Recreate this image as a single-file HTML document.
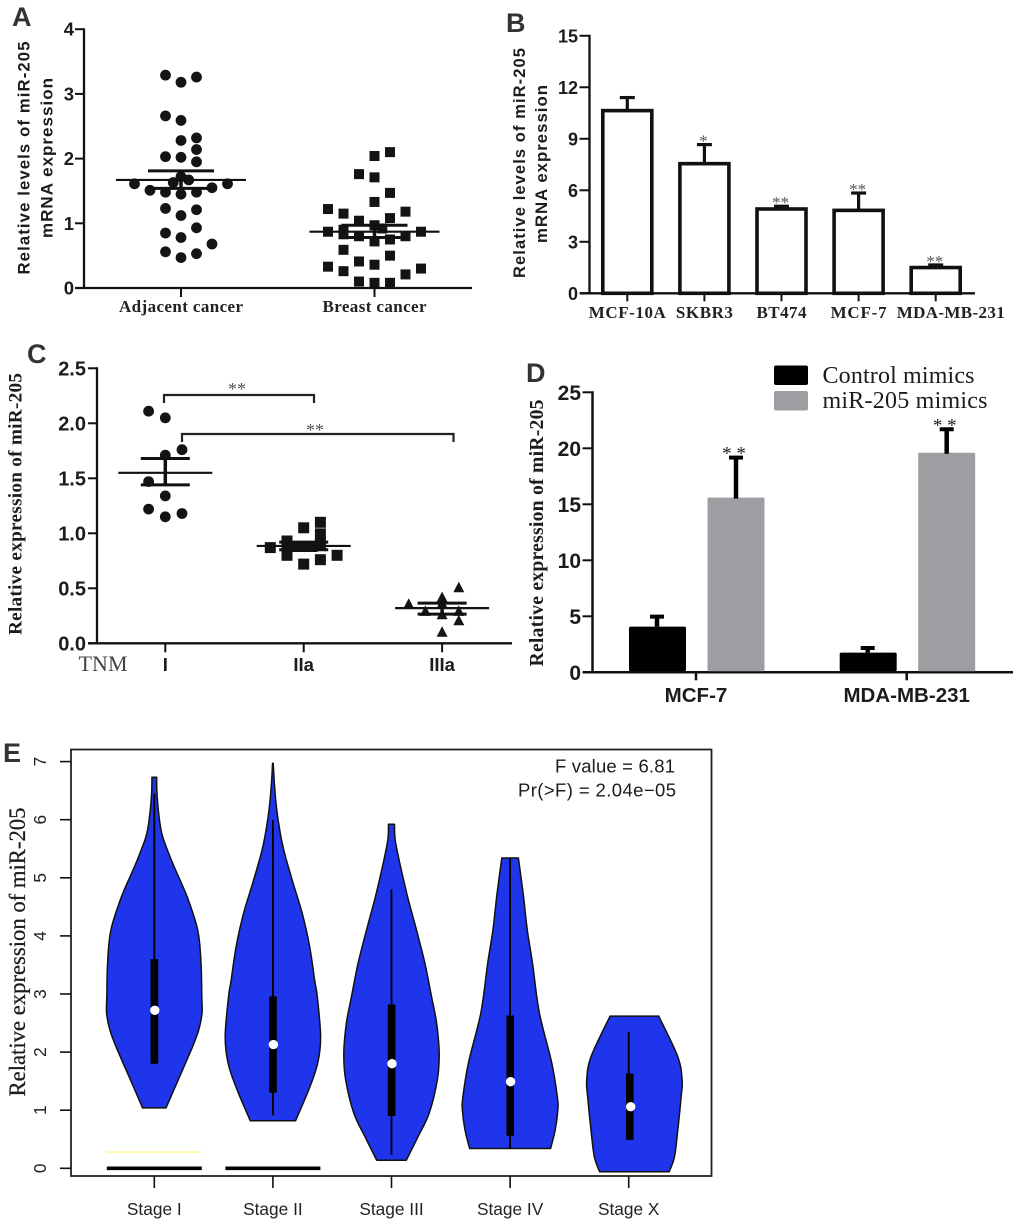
<!DOCTYPE html>
<html lang="en">
<head>
<meta charset="utf-8">
<title>miR-205 expression figure</title>
<style>
html,body{margin:0;padding:0;background:#fff;width:1020px;height:1226px;overflow:hidden}
svg{display:block}
text{fill:#1c1c1c}
.sans{font-family:"Liberation Sans",Arial,sans-serif}
.serif{font-family:"Liberation Serif","Times New Roman",serif}
.b{font-weight:bold}
.letter{font-family:"Liberation Sans",Arial,sans-serif;font-weight:bold;font-size:27px;fill:#333}
.tick{font-family:"Liberation Sans",Arial,sans-serif;font-weight:bold;font-size:18px;text-anchor:end}
.cat{font-family:"Liberation Serif",serif;font-weight:bold;font-size:17px;text-anchor:middle;fill:#222}
.cat2{font-family:"Liberation Sans",Arial,sans-serif;font-weight:bold;font-size:18.5px;text-anchor:middle}
.star{font-family:"Liberation Serif",serif;font-size:17px;text-anchor:middle;fill:#555}
.etick{font-family:"Liberation Sans",Arial,sans-serif;font-size:17.3px;text-anchor:middle;fill:#222}
</style>
</head>
<body>
<svg id="fig" xmlns="http://www.w3.org/2000/svg" width="1020" height="1226" viewBox="0 0 1020 1226">
  <g id="panel-a">
    <text class="letter" x="12" y="26">A</text>
    <text class="sans b" font-size="16.7" transform="translate(29.5,158) rotate(-90)" text-anchor="middle" textLength="233">Relative levels of miR-205</text>
    <text class="sans b" font-size="17" transform="translate(52.5,158) rotate(-90)" text-anchor="middle" textLength="160">mRNA expression</text>
  </g>
  <g id="panel-b">
    <text class="letter" x="506" y="32">B</text>
    <text class="sans b" font-size="16.5" transform="translate(525,163) rotate(-90)" text-anchor="middle" textLength="230">Relative levels of miR-205</text>
    <text class="sans b" font-size="16.8" transform="translate(547,164) rotate(-90)" text-anchor="middle" textLength="158">mRNA expression</text>
  </g>
  <g id="panel-c">
    <text class="letter" x="27" y="363">C</text>
    <text class="serif b" font-size="19.3" transform="translate(21.5,504) rotate(-90)" text-anchor="middle" textLength="262">Relative expression of miR-205</text>
    <text class="serif" font-size="22" x="78.5" y="671" style="fill:#444" textLength="49">TNM</text>
  </g>
  <g id="panel-d">
    <text class="letter" x="526" y="382">D</text>
    <text class="serif b" font-size="19.7" transform="translate(543,533) rotate(-90)" text-anchor="middle" textLength="267">Relative expression of miR-205</text>
    <g>
      <rect x="774" y="365.5" width="34" height="19.5" rx="2" fill="#000"/>
      <text class="serif" font-size="24" x="822.5" y="383" textLength="152">Control mimics</text>
      <rect x="774" y="391" width="34" height="19.5" rx="2" fill="#9e9ea2"/>
      <text class="serif" font-size="24" x="822.5" y="408" textLength="165">miR-205 mimics</text>
    </g>
  </g>
  <g id="panel-e">
    <text class="letter" x="3" y="762">E</text>
    <rect x="71" y="749.5" width="640.5" height="426.5" fill="none" stroke="#222" stroke-width="1.8"/>
    <text class="serif" font-size="22.7" transform="translate(25,952) rotate(-90)" text-anchor="middle" textLength="289" style="stroke:#1c1c1c;stroke-width:.25">Relative expression of miR-205</text>
    <text class="sans" font-size="18.5" x="675" y="772.5" text-anchor="end" textLength="120">F value = 6.81</text>
    <text class="sans" font-size="18.5" x="676" y="796.5" text-anchor="end" textLength="158">Pr(&gt;F) = 2.04e−05</text>
  </g>
</svg>
<script>
/* ---------- Panel A data ---------- */
const aCategories = ['Adjacent cancer', 'Breast cancer'];
const aTicks = [0, 1, 2, 3, 4];
const adjacentValues = [3.29,3.18,3.26,2.66,2.59,2.32,2.28,2.14,2.03,2.02,1.95,1.72,1.67,1.63,1.61,1.61,1.55,1.51,1.48,1.48,1.45,1.23,1.21,1.12,.93,.85,.78,.68,.56,.53,.47];
const adjacentBins = [-1,0,1,-1,0,1,0,1,-1,0,1,0,.5,-.5,-3,3,2,-2,-1,1,0,-1,1,0,1,-1,0,2,-1,1,0];
const breastValues = [2.10,2.04,1.76,1.71,1.47,1.33,1.22,1.18,1.15,1.08,1.04,.97,.90,.92,.87,.87,.83,.80,.80,.75,.72,.59,.50,.41,.36,.33,.30,.26,.21,.10,.08,.08];
const breastBins = [1,0,-1,0,1,0,-3,2,-2,1,-1,0,-2,.5,-3,3,-2,-1,2,1,0,-2,1,-1,0,-3,3,-2,2,-1,0,1];
const aMeans = [1.67, 0.87];
const aSemHigh = [1.81, 0.97];
const aSemLow = [1.54, 0.78];

/* ---------- Panel B data ---------- */
const bCategories = ['MCF-10A', 'SKBR3', 'BT474', 'MCF-7', 'MDA-MB-231'];
const bTicks = [0, 3, 6, 9, 12, 15];
const bValues = [10.64, 7.55, 4.91, 4.83, 1.5];
const bErrorTops = [11.4, 8.66, 5.07, 5.84, 1.65];
const bStars = ['', '*', '**', '**', '**'];

/* ---------- Panel C data ---------- */
const cCategories = ['I', 'IIa', 'IIIa'];
const cTicks = ['0.0', '0.5', '1.0', '1.5', '2.0', '2.5'];
const stageIValues = [2.11,2.05,1.76,1.71,1.47,1.34,1.22,1.18,1.15];
const stageIBins = [-1,0,1,0,-1,0,-1,1,0];
const stageIIaValues = [1.10,1.05,.995,.93,.87,.91,.88,.88,.88,.88,.80,.80,.76,.72];
const stageIIaBins = [1,0,1,-1,-2,1,-1,0,.5,-.5,-1,2,1,0];
const stageIIIaValues = [.505,.415,.355,.36,.29,.29,.26,.205,.10];
const stageIIIaBins = [1,0,-2,0,-1,1,0,1,0];
const cMeans = [1.55, 0.885, 0.32];
const cSemHigh = [1.68, 0.92, 0.365];
const cSemLow = [1.44, 0.85, 0.265];

/* ---------- Panel D data ---------- */
const dCategories = ['MCF-7', 'MDA-MB-231'];
const dTicks = [0, 5, 10, 15, 20, 25];
const controlValues = [4.08, 1.76];
const controlErrorTops = [4.97, 2.17];
const mimicValues = [15.6, 19.6];
const mimicErrorTops = [19.17, 21.7];

/* ---------- Panel E data ---------- */
const eCategories = ['Stage I', 'Stage II', 'Stage III', 'Stage IV', 'Stage X'];
const eTicks = [0, 1, 2, 3, 4, 5, 6, 7];
const violinValues = [
  [6.73,6.45,6.05,5.71,5.25,4.68,4.10,3.53,2.95,2.67,2.38,2.09,1.52,1.04],
  [6.97,6.57,6.11,5.54,4.96,4.39,3.82,3.24,2.95,2.27,1.81,1.35,.82],
  [5.92,5.65,5.25,4.68,4.10,3.53,2.95,2.50,1.98,1.52,.95,.55,.14],
  [5.34,4.68,4.10,3.53,2.67,1.81,1.23,1.00,.66,.34],
  [2.62,1.92,1.52,1.23,.66,.20,-.06]
];
const violinDensities = [
  [.05,.056,.10,.175,.385,.685,.91,.98,.995,1,.93,.80,.50,.245],
  [.007,.035,.09,.21,.405,.615,.77,.875,.93,1,.94,.75,.475],
  [.063,.077,.175,.335,.525,.70,.84,.945,1,.96,.79,.56,.31],
  [.175,.28,.36,.47,.615,.875,.99,1,.945,.85],
  [.51,.91,1,.98,.91,.84,.73]
];
const eQ1 = [1.80, 1.30, 0.90, 0.56, 0.49];
const eQ3 = [3.60, 2.96, 2.82, 2.63, 1.63];
const eMedian = [2.72, 2.13, 1.80, 1.49, 1.06];
const eWhiskerHigh = [6.45, 6.00, 4.80, 5.34, 2.35];
const eWhiskerLow = [1.80, 0.91, 0.23, 0.34, 0.49];
const eFlatStages = [0, 1];
const eFlatValue = 0;
const eTraceStages = [0];
const eTraceValue = 0.28;

/* ---------- Axis functions ---------- */
const yA = v => 288 - v * 64.7;
const xA = i => 181 + i * 193.5;
const binA = 15.5;
const yB = v => 293.3 - v * 17.17;
const xB = i => 627.3 + i * 77.1;
const yC = v => 643.3 - v * 110;
const xC = i => 165.3 + i * 138.4;
const binC = 16.7;
const yD = v => 672.3 - v * 11.2;
const xDgroup = i => 696 + i * 210.7;
const yE = v => 1168.3 - v * 58.1;
const xE = i => 154.3 + i * 118.6;
const violinScale = 47.7;

const NS = 'http://www.w3.org/2000/svg';
const pa = document.getElementById('panel-a');
const pb = document.getElementById('panel-b');
const pc = document.getElementById('panel-c');
const pd = document.getElementById('panel-d');
const pe = document.getElementById('panel-e');

function mk(parent, tag, attrs, txt) {
  const el = document.createElementNS(NS, tag);
  for (const k in attrs) el.setAttribute(k, attrs[k]);
  if (txt !== undefined) el.textContent = txt;
  parent.appendChild(el);
  return el;
}
function ln(parent, x1, y1, x2, y2, w, c) {
  return mk(parent, 'line', {x1: x1, y1: y1, x2: x2, y2: y2, stroke: c || '#111', 'stroke-width': w});
}
function marker(parent, shape, x, y, big) {
  const s = big ? 5.5 : 5;
  if (shape === 'circle') return mk(parent, 'circle', {cx: x, cy: y, r: 5.4, fill: '#141414'});
  if (shape === 'square') return mk(parent, 'rect', {x: x - s, y: y - s, width: 2 * s, height: 2 * s, fill: '#141414'});
  return mk(parent, 'polygon', {points: (x) + ',' + (y - 6) + ' ' + (x + 5.5) + ',' + (y + 4.5) + ' ' + (x - 5.5) + ',' + (y + 4.5), fill: '#141414'});
}
function yAxis(parent, scale, ticks, axisX, tickLen, labelX, axisW, fontSize, dy) {
  const top = Math.min.apply(null, ticks.map(t => scale(+t)));
  const bot = Math.max.apply(null, ticks.map(t => scale(+t)));
  const axis = ln(parent, axisX, top - 1, axisX, bot + 1, axisW);
  
  
  ticks.forEach(t => {
    const tk = ln(parent, axisX - tickLen, scale(+t), axisX, scale(+t), 2);
    
    
    const lb = mk(parent, 'text', {class: 'tick', x: labelX, y: scale(+t) + dy, style: 'font-size:' + fontSize + 'px'}, String(t));
    
    
  });
}
function summary(parent, cx, mean, hi, lo, scale, meanHalf, semHalf) {
  const m = ln(parent, cx - meanHalf, scale(mean), cx + meanHalf, scale(mean), 2.2);
  
  
  const h = ln(parent, cx - semHalf, scale(hi), cx + semHalf, scale(hi), 3);
  
  
  const l = ln(parent, cx - semHalf, scale(lo), cx + semHalf, scale(lo), 3);
  
  
  const v = ln(parent, cx, scale(hi), cx, scale(lo), 3.5);
  
  
}

/* ---------- Draw panel A ---------- */
yAxis(pa, yA, aTicks, 84, 9, 74, 2.3, 18.5, 6.5);
const aXAxis = ln(pa, 75, yA(0), 472, yA(0), 2.3);


aCategories.forEach((c, i) => {
  const tk = ln(pa, xA(i), yA(0), xA(i), yA(0) + 9, 2);
  
  
  const lb = mk(pa, 'text', {class: 'cat', x: xA(i), y: 312, textLength: i ? 104 : 124}, c);
  
  
});
adjacentValues.forEach((v, i) => {
  const p = marker(pa, 'circle', xA(0) + adjacentBins[i] * binA, yA(v));
  
  
});
breastValues.forEach((v, i) => {
  const p = marker(pa, 'square', xA(1) + breastBins[i] * binA, yA(v));
  
  
});
aMeans.forEach((m, i) => summary(pa, xA(i), m, aSemHigh[i], aSemLow[i], yA, 65, 33));

/* ---------- Draw panel B ---------- */
yAxis(pb, yB, bTicks, 589.5, 10, 578, 2.3, 18, 6.5);
const bXAxis = ln(pb, 580, yB(0), 975, yB(0), 2.3);


const bLabelOffsets = [0, 0, 0, 0, 15];
const bLabelWidths = [77, 57, 50, 56, 108];
bCategories.forEach((c, i) => {
  const tk = ln(pb, xB(i), yB(0), xB(i), yB(0) + 8, 2);
  
  
  const lb = mk(pb, 'text', {class: 'cat', x: xB(i) + bLabelOffsets[i], y: 318, textLength: bLabelWidths[i]}, c);
  
  
});
bValues.forEach((v, i) => {
  const eb = ln(pb, xB(i), yB(bErrorTops[i]), xB(i), yB(v), 3.2);
  
  
  const cap = ln(pb, xB(i) - 7.5, yB(bErrorTops[i]), xB(i) + 7.5, yB(bErrorTops[i]), 3.2);
  
  
  const bar = mk(pb, 'rect', {x: xB(i) - 24.5, y: yB(v), width: 49, height: yB(0) - yB(v), fill: '#fff', stroke: '#111', 'stroke-width': 3.6});
  
  
  if (bStars[i]) {
    const s = mk(pb, 'text', {class: 'star', x: xB(i) - 1, y: yB(bErrorTops[i]) + 2}, bStars[i]);
    
    
  }
});

/* ---------- Draw panel C ---------- */
yAxis(pc, yC, cTicks, 97, 9, 86, 2.3, 20, 7);
const cXAxis = ln(pc, 88, yC(0), 512, yC(0), 2.3);


cCategories.forEach((c, i) => {
  const tk = ln(pc, xC(i), yC(0), xC(i), yC(0) + 9, 2);
  
  
  const lb = mk(pc, 'text', {class: 'cat2', x: xC(i), y: 671}, c);
  
  
});
[[stageIValues, stageIBins, 'circle'], [stageIIaValues, stageIIaBins, 'square'], [stageIIIaValues, stageIIIaBins, 'triangle']].forEach((set, g) => {
  set[0].forEach((v, i) => {
    const p = marker(pc, set[2], xC(g) + set[1][i] * binC, yC(v), true);
    
    
  });
});
cMeans.forEach((m, i) => summary(pc, xC(i), m, cSemHigh[i], cSemLow[i], yC, 47, 24.5));
const bracket1 = mk(pc, 'path', {d: 'M164 403V395H314V403', fill: 'none', stroke: '#222', 'stroke-width': 2.2});


const bracket2 = mk(pc, 'path', {d: 'M182 442V434H453.5V442', fill: 'none', stroke: '#222', 'stroke-width': 2.2});


const cs1 = mk(pc, 'text', {class: 'star', x: 237, y: 395, style: 'font-size:18px'}, '**');


const cs2 = mk(pc, 'text', {class: 'star', x: 315, y: 436, style: 'font-size:18px'}, '**');



/* ---------- Draw panel D ---------- */
yAxis(pd, yD, dTicks, 592.5, 10, 581, 2.5, 21, 7.5);
const dXAxis = ln(pd, 583, yD(0), 1013, yD(0), 2.5);


dCategories.forEach((c, i) => {
  const tk = ln(pd, xDgroup(i), yD(0), xDgroup(i), yD(0) + 8, 2.5);
  
  
  const lb = mk(pd, 'text', {class: 'cat2', x: xDgroup(i), y: 702, style: 'font-size:20.5px'}, c);
  
  
  const conW = ln(pd, xDgroup(i) - 39, yD(controlErrorTops[i]), xDgroup(i) - 39, yD(controlValues[i]), 4.5, '#000');
  
  
  const conC = ln(pd, xDgroup(i) - 46, yD(controlErrorTops[i]), xDgroup(i) - 32, yD(controlErrorTops[i]), 4, '#000');
  
  
  const con = mk(pd, 'rect', {x: xDgroup(i) - 67, y: yD(controlValues[i]), width: 57, height: yD(0) - yD(controlValues[i]) - 1, rx: 1.5, fill: '#000'});
  
  
  const mim = mk(pd, 'rect', {x: xDgroup(i) + 11.5, y: yD(mimicValues[i]), width: 57, height: yD(0) - yD(mimicValues[i]) - 1, rx: 1, fill: '#9e9ea2'});
  
  
  const mimW = ln(pd, xDgroup(i) + 40, yD(mimicErrorTops[i]), xDgroup(i) + 40, yD(mimicValues[i]) + 1, 4.5, '#000');
  
  
  const mimC = ln(pd, xDgroup(i) + 33, yD(mimicErrorTops[i]), xDgroup(i) + 47, yD(mimicErrorTops[i]), 4, '#000');
  
  
  const st = mk(pd, 'text', {class: 'star', x: xDgroup(i) + 38, y: yD(mimicErrorTops[i]) + 2, style: 'font-size:19px;fill:#222'}, '* *');
  
  
});

/* ---------- Draw panel E ---------- */
function smooth(pts) {
  let d = '';
  for (let i = 0; i < pts.length - 1; i++) {
    const p0 = pts[Math.max(i - 1, 0)], p1 = pts[i], p2 = pts[i + 1], p3 = pts[Math.min(i + 2, pts.length - 1)];
    d += 'C' + (p1[0] + (p2[0] - p0[0]) / 6).toFixed(1) + ' ' + (p1[1] + (p2[1] - p0[1]) / 6).toFixed(1) + ' ' +
         (p2[0] - (p3[0] - p1[0]) / 6).toFixed(1) + ' ' + (p2[1] - (p3[1] - p1[1]) / 6).toFixed(1) + ' ' +
         p2[0].toFixed(1) + ' ' + p2[1].toFixed(1);
  }
  return d;
}
eTicks.forEach(t => {
  const tk = ln(pe, 60, yE(t), 71, yE(t), 1.6);
  
  
  const lb = mk(pe, 'text', {class: 'etick', transform: 'translate(46,' + yE(t) + ') rotate(-90)'}, String(t));
  
  
});
eFlatStages.forEach(i => {
  const f = ln(pe, xE(i) - 47.5, yE(eFlatValue), xE(i) + 47.5, yE(eFlatValue), 3.6, '#000');
  
  
});
eTraceStages.forEach(i => {
  const f = ln(pe, xE(i) - 47.5, yE(eTraceValue), xE(i) + 47.5, yE(eTraceValue), 1.6, '#fdf7a0');
  
  
});
eCategories.forEach((c, i) => {
  const tk = ln(pe, xE(i), 1176, xE(i), 1188, 1.6);
  
  
  const lb = mk(pe, 'text', {class: 'etick', x: xE(i), y: 1215}, c);
  
  
  const cx = xE(i) + (i === 4 ? 5.7 : 0);
  const right = violinValues[i].map((v, k) => [cx + violinDensities[i][k] * violinScale, yE(v)]);
  const left = violinValues[i].map((v, k) => [cx - violinDensities[i][k] * violinScale, yE(v)]).reverse();
  const d = 'M' + right[0][0].toFixed(1) + ' ' + right[0][1].toFixed(1) + smooth(right) +
            'L' + left[0][0].toFixed(1) + ' ' + left[0][1].toFixed(1) + smooth(left) + 'Z';
  const vio = mk(pe, 'path', {d: d, fill: '#1f35ec', stroke: '#111', 'stroke-width': 1.5, 'stroke-linejoin': 'round'});
  
  
  const wh = ln(pe, xE(i), yE(eWhiskerHigh[i]), xE(i), yE(eWhiskerLow[i]), 1.8, '#000');
  
  
  const box = mk(pe, 'rect', {x: xE(i) - 3.7 + (i === 4 ? 1 : 0), y: yE(eQ3[i]), width: 7.6, height: yE(eQ1[i]) - yE(eQ3[i]), fill: '#000'});
  
  
  const med = mk(pe, 'circle', {cx: xE(i) + (i === 4 ? 2 : 0.5), cy: yE(eMedian[i]), r: 4.7, fill: '#fff'});
  
  
});
</script>
</body>
</html>
